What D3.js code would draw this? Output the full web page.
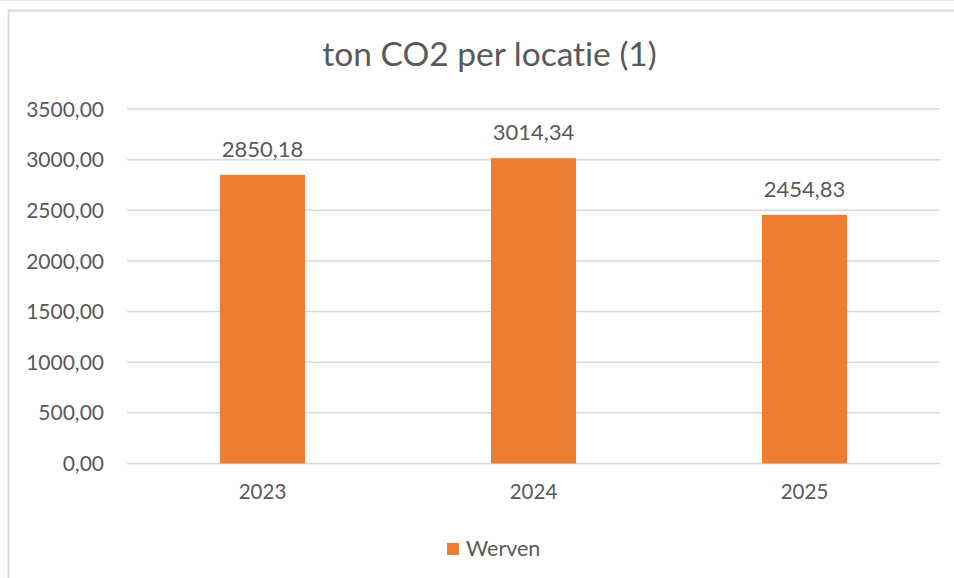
<!DOCTYPE html>
<html>
<head>
<meta charset="utf-8">
<script src="https://cdn.jsdelivr.net/npm/d3@7"></script>
<style>
    body { margin: 0; background: #fff; }
    svg text { font-family: Lato, "Open Sans", sans-serif; fill: #595959; font-variant-ligatures: none; }
</style>
</head>
<body>
<div id="chart"></div>
<script>
// chart data
const years = ["2023", "2024", "2025"];
const werven = [2850.18, 3014.34, 2454.83];
const yTicks = [0, 500, 1000, 1500, 2000, 2500, 3000, 3500];
const seriesName = "Werven";
const title = "ton CO2 per locatie (1)";

const width = 954,
    height = 578;
const margin = { top: 109, right: 14, bottom: 114.5, left: 127 };

const fmt = d => d.toFixed(2).replace(".", ",");

const svg = d3.select("#chart")
    .append("svg")
    .attr("width", width)
    .attr("height", height);

// chart frame
svg.append("line")
    .attr("x1", 0).attr("x2", width)
    .attr("y1", 0.5).attr("y2", 0.5)
    .attr("stroke", "#ececec").attr("stroke-width", 1);
svg.append("path")
    .attr("d", `M${width},10.5 H8.5 V${height}`)
    .attr("fill", "none")
    .attr("stroke", "#d9d9d9")
    .attr("stroke-width", 2);

const x = d3.scaleBand()
    .domain(years)
    .range([margin.left, width - margin.right])
    .paddingInner(0.686)
    .paddingOuter(0.343);

const y = d3.scaleLinear()
    .domain([0, 3500])
    .range([height - margin.bottom, margin.top]);

// gridlines
svg.append("g")
    .selectAll("line")
    .data(yTicks)
    .enter()
    .append("line")
    .attr("x1", margin.left)
    .attr("x2", width - margin.right)
    .attr("y1", d => y(d))
    .attr("y2", d => y(d))
    .attr("stroke", "#d9d9d9")
    .attr("stroke-width", 1.5);

// y axis labels
const yAxis = d3.axisLeft(y)
    .tickValues(yTicks)
    .tickFormat(fmt)
    .tickSize(0)
    .tickPadding(23);

svg.append("g")
    .attr("transform", `translate(${margin.left},0)`)
    .call(yAxis)
    .call(g => g.select(".domain").remove())
    .selectAll("text")
    .attr("font-size", 21)
    .attr("font-family", null)
    .attr("fill", null)
    .attr("dy", "0.34em");

// x axis labels
const xAxis = d3.axisBottom(x).tickSize(0).tickPadding(21);
svg.append("g")
    .attr("transform", `translate(0,${y(0)})`)
    .call(xAxis)
    .call(g => g.select(".domain").remove())
    .selectAll("text")
    .attr("font-size", 20.5)
    .attr("font-family", null)
    .attr("fill", null);

// bars
svg.append("g")
    .selectAll("rect")
    .data(werven)
    .enter()
    .append("rect")
    .attr("x", (d, i) => x(years[i]))
    .attr("y", d => y(d))
    .attr("width", x.bandwidth())
    .attr("height", d => y(0) - y(d))
    .attr("fill", "#ed7d31");

// data labels
svg.append("g")
    .selectAll("text")
    .data(werven)
    .enter()
    .append("text")
    .attr("x", (d, i) => x(years[i]) + x.bandwidth() / 2)
    .attr("y", d => y(d) - 18)
    .attr("text-anchor", "middle")
    .attr("font-size", 22)
    .text(fmt);

// title
svg.append("text")
    .attr("x", 489.5)
    .attr("y", 66)
    .attr("text-anchor", "middle")
    .attr("font-size", 33.5)
    .text(title);

// legend
const legend = svg.append("g").attr("transform", "translate(447,543)");
legend.append("rect")
    .attr("width", 12)
    .attr("height", 12)
    .attr("fill", "#ed7d31");
legend.append("text")
    .attr("x", 19)
    .attr("y", 12.5)
    .attr("font-size", 21.5)
    .text(seriesName);
</script>
</body>
</html>
